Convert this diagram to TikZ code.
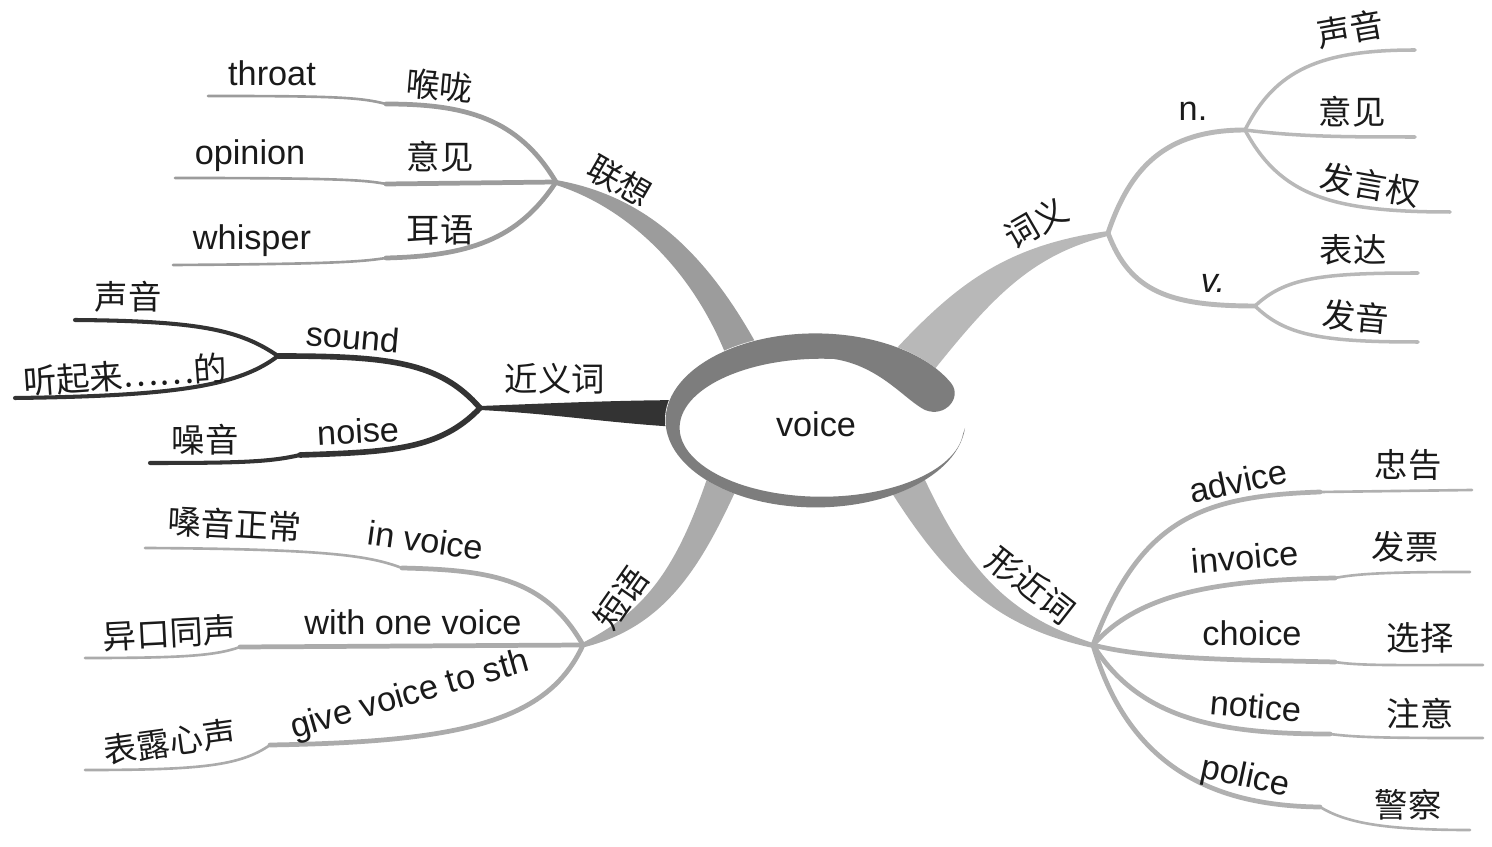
\documentclass[tikz,border=0pt]{standalone}
\usepackage{fontspec}
\setmainfont{Liberation Sans}
\newfontfamily\cjk{Noto Sans CJK SC}
\definecolor{gA}{HTML}{9C9C9C}
\definecolor{gB}{HTML}{333333}
\definecolor{gC}{HTML}{ABABAB}
\definecolor{gD}{HTML}{B8B8B8}
\definecolor{gE}{HTML}{B0B0B0}
\definecolor{ringc}{HTML}{7D7D7D}
\definecolor{txt}{HTML}{1A1A1A}
\tikzset{
  en/.style={font=\fontsize{19.5}{22}\selectfont, text=txt, inner sep=0pt},
  zh/.style={font=\fontsize{19}{22}\selectfont\cjk, text=txt, inner sep=0pt},
  thick2/.style={line width=2.7pt, line cap=round},
  thin2/.style={line width=1.5pt, line cap=round},
  mid2/.style={line width=2.0pt, line cap=round},
}
\begin{document}
\begin{tikzpicture}[x=0.02cm,y=-0.02cm]
\useasboundingbox (0,0) rectangle (1492,847);
% hubs
\coordinate (hA) at (556,182);
\coordinate (hB) at (480,408);
\coordinate (hC) at (583,645);
\coordinate (hD) at (1108,233);
\coordinate (hE) at (1093,645);
\coordinate (center) at (815,420);
% ---------- main branches (tapered) ----------
\fill[gA] (hA) ++(0,-2) .. controls (640,195) and (705,245) .. (765,360) -- (728,360) .. controls (690,262) and (620,205) .. (556,185) -- cycle;
\fill[gB] (hB) ++(0,-2) .. controls (560,403) and (620,400) .. (700,400) -- (700,428) .. controls (620,425) and (560,414) .. (480,410) -- cycle;
\fill[gC] (745,470) .. controls (705,560) and (670,625) .. (585,647) -- (582,643) .. controls (650,610) and (680,560) .. (710,470) -- cycle;
\fill[gD] (895,350) .. controls (960,280) and (1010,245) .. (1108,231) -- (1108,236) .. controls (1030,255) and (990,300) .. (930,375) -- cycle;
\fill[gE] (925,480) .. controls (965,565) and (1005,615) .. (1093,643) -- (1093,648) .. controls (1000,628) and (950,585) .. (890,490) -- cycle;
% ---------- 联想 ----------
\coordinate (a1) at (386,104); \coordinate (a1e) at (208,96);
\coordinate (a2) at (386,184); \coordinate (a2e) at (175,178);
\coordinate (a3) at (386,258); \coordinate (a3e) at (173,265);
\draw[gA,thick2] (hA) .. controls (518,118) and (465,104) .. (a1);
\draw[gA,thin2] (a1) .. controls (360,97) and (330,96) .. (a1e);
\draw[gA,thick2] (hA) -- (a2);
\draw[gA,thin2] (a2) .. controls (365,180) and (340,178) .. (a2e);
\draw[gA,thick2] (hA) .. controls (518,240) and (468,256) .. (a3);
\draw[gA,thin2] (a3) .. controls (360,262) and (330,264) .. (a3e);
\node[en] (throat) at (272,73) {throat};
\node[zh,rotate=-5] (houlong) at (440,86) {喉咙};
\node[en] (opinion) at (250,156) {opinion};
\node[zh] (yijian1) at (440,157) {意见};
\node[en] (whisper) at (252,241) {whisper};
\node[zh] (eryu) at (440,230) {耳语};
\node[zh,rotate=-30] (lianxiang) at (620,181) {联想};
% ---------- 近义词 ----------
\coordinate (b1) at (278,356);
\coordinate (b11) at (75,320); \coordinate (b12) at (15,398);
\coordinate (b2) at (300,455); \coordinate (b2e) at (150,463);
\draw[gB,line width=3.2pt,line cap=round] (hB) .. controls (440,362) and (390,356) .. (b1);
\draw[gB,line width=2.3pt,line cap=round] (b1) .. controls (240,330) and (200,321) .. (b11);
\draw[gB,line width=2.3pt,line cap=round] (b1) .. controls (240,385) and (180,396) .. (b12);
\draw[gB,line width=3.2pt,line cap=round] (hB) .. controls (440,450) and (390,452) .. (b2);
\draw[gB,line width=2.3pt,line cap=round] (b2) .. controls (270,462) and (240,463) .. (b2e);
\node[zh] (shengyin1) at (128,297) {声音};
\node[zh,rotate=4] (tingqilai) at (125,375) {听起来……的};
\node[en,rotate=-5] (sound) at (353,337) {sound};
\node[zh] (jinyici) at (555,379) {近义词};
\node[en,rotate=3] (noise) at (358,431) {noise};
\node[zh] (zaoyin) at (205,440) {噪音};
% ---------- 短语 ----------
\coordinate (c1) at (402,568); \coordinate (c1e) at (145,548);
\coordinate (c2) at (240,647); \coordinate (c2e) at (85,658);
\coordinate (c3) at (270,745); \coordinate (c3e) at (85,770);
\draw[gC,thick2] (hC) .. controls (545,578) and (490,570) .. (c1);
\draw[gC,thin2] (c1) .. controls (370,556) and (330,549) .. (c1e);
\draw[gC,thick2] (hC) -- (c2);
\draw[gC,thin2] (c2) .. controls (215,656) and (180,658) .. (c2e);
\draw[gC,thick2] (hC) .. controls (548,722) and (460,742) .. (c3);
\draw[gC,thin2] (c3) .. controls (240,766) and (200,770) .. (c3e);
\node[zh,rotate=-3] (sangyin) at (235,524) {嗓音正常};
\node[en,rotate=-8] (invoicep) at (426,540) {in voice};
\node[zh,rotate=3] (yikou) at (170,633) {异口同声};
\node[en] (withone) at (413,622) {with one voice};
\node[zh,rotate=8] (biaolu) at (170,742) {表露心声};
\node[en,rotate=16] (givevoice) at (410,696) {give voice to sth};
\node[zh,rotate=55] (duanyu) at (621,598) {短语};
% ---------- 词义 ----------
\coordinate (dn) at (1245,130);
\coordinate (dv) at (1255,306);
\coordinate (dn1) at (1415,50); \coordinate (dn2) at (1415,137); \coordinate (dn3) at (1450,212);
\coordinate (dv1) at (1418,273); \coordinate (dv2) at (1418,342);
\draw[gD,line width=2.8pt,line cap=round] (hD) .. controls (1130,168) and (1165,130) .. (dn);
\draw[gD,line width=2.8pt,line cap=round] (hD) .. controls (1130,292) and (1170,306) .. (dv);
\draw[gD,mid2] (dn) .. controls (1275,70) and (1320,50) .. (dn1);
\draw[gD,mid2] (dn) .. controls (1300,137) and (1350,137) .. (dn2);
\draw[gD,mid2] (dn) .. controls (1280,195) and (1330,212) .. (dn3);
\draw[gD,mid2] (dv) .. controls (1285,278) and (1320,273) .. (dv1);
\draw[gD,mid2] (dv) .. controls (1285,335) and (1320,342) .. (dv2);
\node[zh,rotate=30] (ciyi) at (1036,223) {词义};
\node[en] (nlab) at (1193,111) {n.};
\node[en,font=\fontsize{19.5}{22}\selectfont\itshape] (vlab) at (1213,283) {v.};
\node[zh,rotate=10] (shengyin2) at (1350,29) {声音};
\node[zh] (yijian2) at (1352,112) {意见};
\node[zh,rotate=-10] (fayanquan) at (1370,185) {发言权};
\node[zh] (biaoda) at (1353,250) {表达};
\node[zh,rotate=-5] (fayin) at (1356,317) {发音};
% ---------- 形近词 ----------
\coordinate (e1) at (1320,492); \coordinate (e1e) at (1472,490);
\coordinate (e2) at (1335,578); \coordinate (e2e) at (1470,572);
\coordinate (e3) at (1335,662); \coordinate (e3e) at (1483,665);
\coordinate (e4) at (1330,734); \coordinate (e4e) at (1483,738);
\coordinate (e5) at (1320,807); \coordinate (e5e) at (1470,830);
\draw[gE,thick2] (hE) .. controls (1140,520) and (1200,496) .. (e1);
\draw[gE,thin2] (e1) -- (e1e);
\draw[gE,thick2] (hE) .. controls (1140,592) and (1220,580) .. (e2);
\draw[gE,thin2] (e2) .. controls (1360,573) and (1400,572) .. (e2e);
\draw[gE,thick2] (hE) .. controls (1150,660) and (1250,660) .. (e3);
\draw[gE,thin2] (e3) .. controls (1360,666) and (1400,665) .. (e3e);
\draw[gE,thick2] (hE) .. controls (1140,720) and (1220,734) .. (e4);
\draw[gE,thin2] (e4) .. controls (1360,738) and (1400,738) .. (e4e);
\draw[gE,thick2] (hE) .. controls (1130,772) and (1220,806) .. (e5);
\draw[gE,thin2] (e5) .. controls (1345,822) and (1380,830) .. (e5e);
\node[zh,rotate=-38] (xingjinci) at (1031,585) {形近词};
\node[en,rotate=12] (advice) at (1238,481) {advice};
\node[zh] (zhonggao) at (1408,465) {忠告};
\node[en,rotate=5] (invoice) at (1245,557) {invoice};
\node[zh] (fapiao) at (1405,547) {发票};
\node[en] (choice) at (1252,633) {choice};
\node[zh] (xuanze) at (1420,638) {选择};
\node[en,rotate=-5] (notice) at (1256,706) {notice};
\node[zh] (zhuyi) at (1420,714) {注意};
\node[en,rotate=-12] (police) at (1245,778) {police};
\node[zh] (jingcha) at (1408,805) {警察};
% ---------- centre ----------
\fill[white] (center) ellipse [x radius=150, y radius=87];
\fill[ringc] (965,428) arc[start angle=5,end angle=335,x radius=150,y radius=87]
  .. controls (962,398) and (945,418) .. (925,410)
  .. controls (905,400) and (880,366) .. (834,359)
  arc[start angle=275,end angle=5,x radius=142,y radius=69] -- cycle;
\node[en] (voice) at (816,424) {voice};
\end{tikzpicture}
\end{document}
